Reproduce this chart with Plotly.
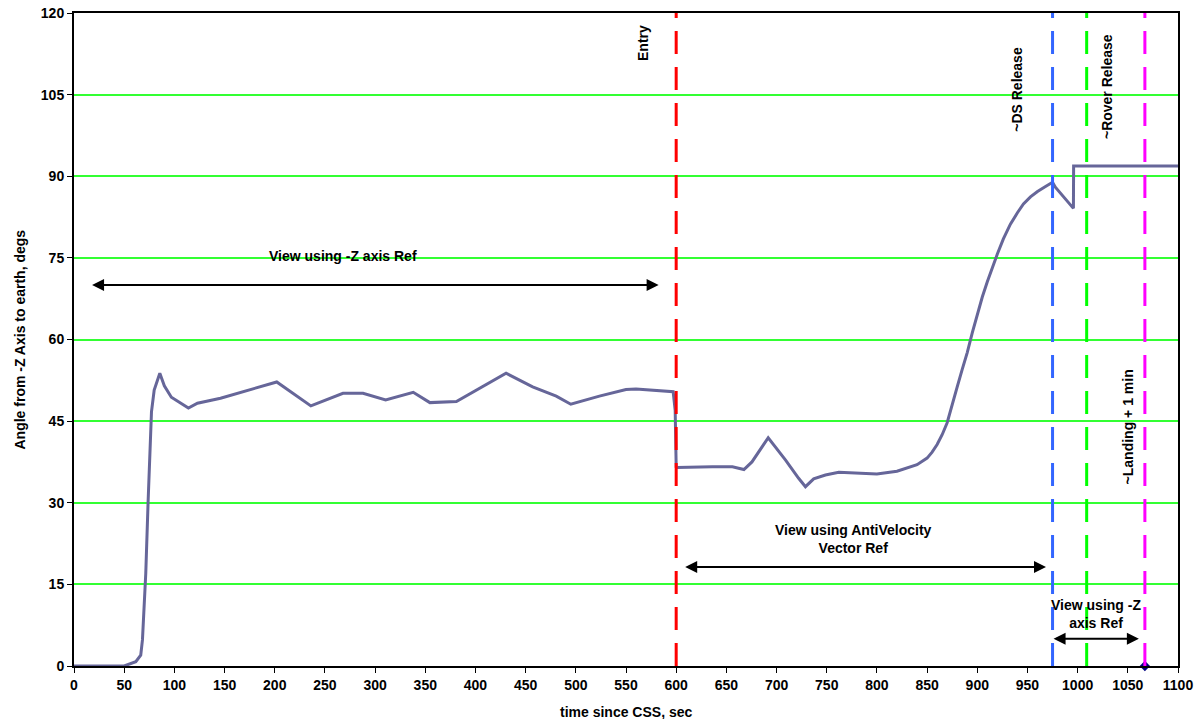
import plotly.graph_objects as go

# Off-nadir angle history, seconds since CSS vs degrees
time_s = [0, 50, 61.6, 66.5, 68.2, 71.5, 73.8, 75.8, 77.2, 79.9, 85.5, 90, 97, 114,
          123, 146, 175, 202, 236, 268, 288, 310.5, 338, 354.6, 381, 407, 430.5,
          457, 480.5, 495, 523.5, 550, 560, 597, 599, 600, 601, 636, 656, 667.5,
          675.5, 691.7, 709, 722, 728.8, 737, 748.7, 762, 780, 800, 820, 840, 850,
          855, 860, 865, 870, 875, 880, 885, 890, 895, 900, 905, 910, 915, 920,
          926, 933, 940, 946, 953, 960, 968, 975, 977.8, 995.8, 996, 1100]
angle_deg = [0, 0, 0.8, 2, 4.8, 17, 30, 41.5, 46.7, 50.7, 53.8, 51.5, 49.4, 47.4,
             48.3, 49.2, 50.8, 52.2, 47.8, 50.1, 50.1, 48.9, 50.3, 48.4, 48.6, 51.3,
             53.8, 51.3, 49.6, 48.1, 49.6, 50.8, 50.9, 50.4, 47, 36.6, 36.5, 36.6,
             36.6, 36.1, 37.5, 41.95, 37.85, 34.5, 32.95, 34.4, 35.1, 35.6, 35.4,
             35.3, 35.8, 37, 38.2, 39.3, 40.7, 42.5, 44.7, 47.8, 51.3, 54.5, 57.6,
             61.2, 64.6, 67.8, 70.6, 73.2, 75.7, 78.5, 81.2, 83.3, 84.9, 86.2, 87.2,
             88.1, 88.9, 88.0, 84.1, 91.9, 91.9]

# Event markers
event_times = [600, 975, 1009, 1067]
event_colors = ["#FF0000", "#3366FF", "#00FF00", "#FF00FF"]
event_labels = ["Entry", "~DS Release", "~Rover Release", "~Landing + 1 min"]
event_label_pos = [(567, 114.5), (939.6, 105.9), (1029.3, 106.4), (1050.5, 43.9)]

# Reference-frame spans
span_starts = [18, 609, 976]
span_ends = [584, 970, 1062.5]
span_y = [70, 18.2, 5.0]
span_labels = ["View using -Z axis Ref", "View using AntiVelocity<br>Vector Ref",
               "View using -Z<br>axis Ref"]
span_label_pos = [(268.3, 75.4), (776.3, 23.3), (1018.6, 9.6)]

landing_point = ([1067], [0])

FONT = "Liberation Sans, Arial, sans-serif"
bold = dict(family=FONT, size=14, color="black", weight="bold")

fig = go.Figure()

for t, c in zip(event_times, event_colors):
    fig.add_shape(type="line", x0=t, x1=t, y0=0, y1=120, xref="x", yref="y",
                  line=dict(color=c, width=3, dash="23px,13px"), layer="above")

fig.add_trace(go.Scatter(x=time_s, y=angle_deg, mode="lines",
                         line=dict(color="#666699", width=3), showlegend=False))

fig.add_trace(go.Scatter(x=landing_point[0], y=landing_point[1], mode="markers",
                         marker=dict(symbol="diamond", size=8, color="#000080"),
                         cliponaxis=False, showlegend=False))

for txt, (x, y) in zip(event_labels, event_label_pos):
    fig.add_annotation(x=x, y=y, text=txt, textangle=-90,
                       showarrow=False, font=bold)

for x0, x1, y in zip(span_starts, span_ends, span_y):
    fig.add_annotation(x=x0, y=y, ax=x1, ay=y, axref="x", ayref="y", text="",
                       showarrow=True, arrowhead=2, arrowside="end+start",
                       arrowsize=1.2, arrowwidth=2, arrowcolor="black")

for txt, (x, y) in zip(span_labels, span_label_pos):
    fig.add_annotation(x=x, y=y, text=txt, showarrow=False, font=bold)

# Axis titles
fig.add_annotation(xref="paper", yref="paper", x=0.5, y=0, yanchor="middle",
                   yshift=-45.5, text="time since CSS, sec",
                   showarrow=False, font=bold)
fig.add_annotation(xref="paper", yref="paper", x=0, y=0.5, xanchor="center",
                   xshift=-55, textangle=-90,
                   text="Angle from -Z Axis to earth, degs",
                   showarrow=False, font=bold)

fig.update_layout(
    width=1199, height=719,
    margin=dict(l=74, r=21, t=13, b=53, autoexpand=False),
    paper_bgcolor="white", plot_bgcolor="white",
    font=bold,
    xaxis=dict(range=[0, 1100], dtick=50, tick0=0, showgrid=False, zeroline=False,
               showline=True, linecolor="black", linewidth=2, mirror=True,
               ticks="outside", ticklen=5, tickcolor="black", automargin=False,
               tickfont=bold),
    yaxis=dict(range=[0, 120], dtick=15, tick0=0, showgrid=True,
               gridcolor="#33FF33", gridwidth=1.5, zeroline=False,
               showline=True, linecolor="black", linewidth=2, mirror=True,
               ticks="outside", ticklen=5, tickcolor="black", automargin=False,
               tickfont=bold),
)

fig.write_html("out.html")
